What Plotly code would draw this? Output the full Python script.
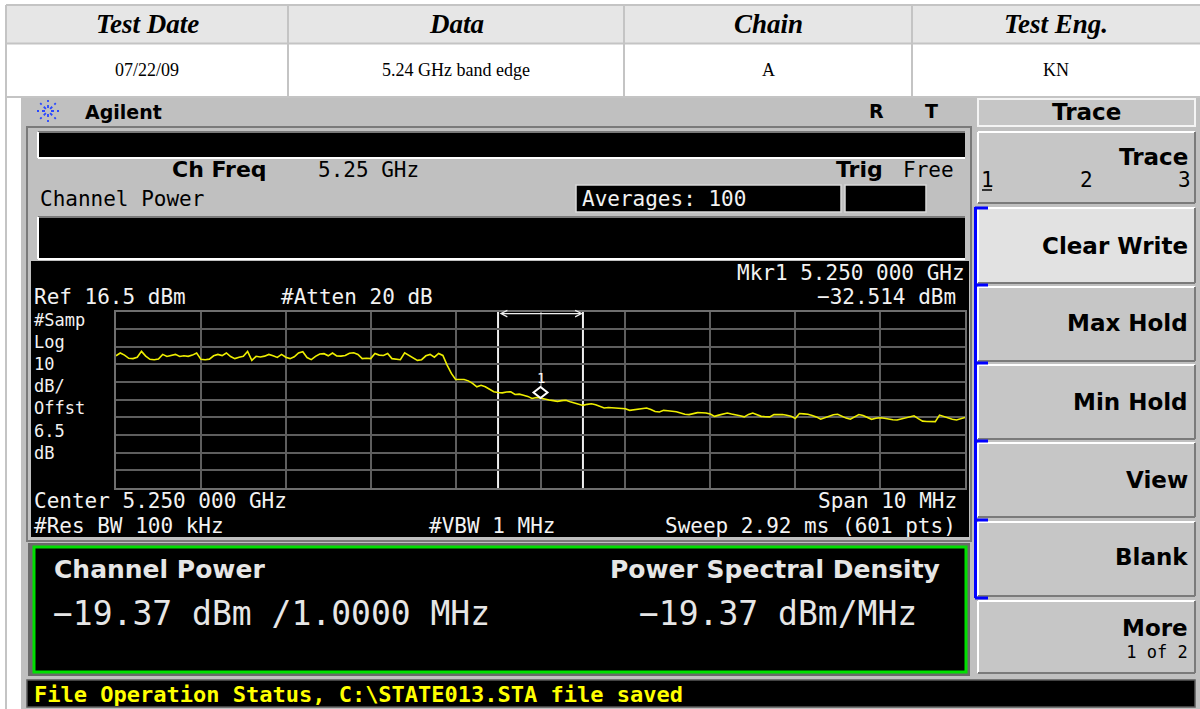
import math
import plotly.graph_objects as go

# ---------------- data ----------------
header_cols = ["Test Date", "Data", "Chain", "Test Eng."]
header_vals = ["07/22/09", "5.24 GHz band edge", "A", "KN"]

center_ghz = 5.25
span_mhz = 10.0
ref_level_dbm = 16.5
db_per_div = 10.0
channel_bw_mhz = 1.0

# swept trace, 201 points across the span (0.05 MHz apart)
trace_dbm = [
    -8.6, -7.0, -8.2, -10.0, -10.2, -9.4, -6.1, -8.8, -10.6, -10.8,
    -10.4, -7.8, -9.0, -8.3, -7.8, -9.0, -8.6, -8.9, -8.2, -7.0,
    -10.6, -10.8, -10.5, -8.6, -7.8, -8.5, -7.0, -9.0, -10.2, -9.4,
    -8.9, -6.1, -11.2, -8.9, -9.3, -8.8, -7.8, -8.6, -9.5, -7.8,
    -9.4, -10.2, -9.2, -7.0, -6.3, -9.6, -10.8, -8.9, -7.6, -7.4,
    -8.6, -7.0, -8.7, -8.8, -8.4, -7.2, -6.9, -7.8, -10.2, -10.0,
    -10.2, -7.3, -8.2, -8.4, -7.3, -10.2, -10.6, -10.8, -6.9, -8.4,
    -9.6, -11.2, -10.8, -8.6, -7.8, -9.4, -7.3, -8.4, -13.9, -18.6,
    -22.0, -22.1, -22.0, -22.8, -24.2, -26.2, -25.3, -26.1, -27.5, -29.0,
    -29.4, -29.6, -29.1, -29.0, -30.5, -30.3, -30.9, -31.6, -32.8, -32.2,
    -32.514, -33.2, -33.6, -34.0, -34.4, -34.0, -33.8, -34.6, -35.4, -35.9,
    -36.7, -36.1, -35.8, -36.3, -37.2, -38.2, -37.9, -38.0, -38.1, -38.4,
    -38.6, -39.5, -39.1, -38.7, -38.5, -38.2, -39.0, -40.2, -40.4, -39.5,
    -39.7, -39.9, -40.3, -41.0, -41.7, -41.9, -41.2, -40.8, -40.9, -41.0,
    -41.6, -42.9, -42.2, -41.4, -41.0, -41.6, -41.9, -42.6, -43.2, -41.8,
    -41.0, -41.9, -42.9, -43.1, -43.2, -41.9, -41.7, -41.9, -42.3, -42.8,
    -44.1, -41.3, -41.5, -41.7, -42.4, -43.2, -44.5, -43.6, -42.8, -42.0,
    -41.7, -42.8, -43.9, -44.5, -43.0, -41.9, -42.4, -43.5, -44.6, -44.0,
    -43.7, -44.0, -44.5, -44.8, -45.0, -44.3, -43.7, -43.0, -42.6, -44.2,
    -45.6, -45.8, -46.0, -45.9, -42.2, -43.0, -44.1, -44.6, -45.0, -44.2,
    -43.5,
]

marker_ghz = 5.250
marker_dbm = -32.514
channel_power_dbm = -19.37
psd_dbm_per_mhz = -19.37

softkeys = ["Trace", "Clear Write", "Max Hold", "Min Hold", "View", "Blank", "More"]
scale_labels = ["#Samp", "Log", "10", "dB/", "Offst", "6.5", "dB"]

# sweep frequencies from the centre / span settings
n_pts = len(trace_dbm)
f_start = center_ghz - span_mhz / 2000.0
f_stop = center_ghz + span_mhz / 2000.0
freq_ghz = [f_start + k * (f_stop - f_start) / (n_pts - 1) for k in range(n_pts)]

# ---------------- helpers (pixel -> paper) ----------------
W, H = 1200, 709
MONO = "DejaVu Sans Mono"
SANS = "DejaVu Sans"
SERIF = "Liberation Serif"
GRAY = "#c0c0c0"
WHITE_TXT = "#f2f2f2"

shapes, annots = [], []


def X(p):
    return p / W


def Y(p):
    return 1 - p / H


def box(x0, y0, x1, y1, fill, line_color=None, lw=0, layer="below"):
    shapes.append(dict(type="rect", xref="paper", yref="paper",
                       x0=X(x0), x1=X(x1), y0=Y(y1), y1=Y(y0),
                       fillcolor=fill, line=dict(width=lw, color=line_color or fill),
                       layer=layer))


def seg(x0, y0, x1, y1, color, w, layer="below", dash="solid"):
    shapes.append(dict(type="line", xref="paper", yref="paper",
                       x0=X(x0), y0=Y(y0), x1=X(x1), y1=Y(y1),
                       line=dict(color=color, width=w, dash=dash), layer=layer))


def label(x, y, s, size, color="#000000", family=MONO, anchor="left", align="left"):
    annots.append(dict(xref="paper", yref="paper", x=X(x), y=Y(y), text=s,
                       showarrow=False, xanchor=anchor, yanchor="middle", align=align,
                       borderpad=0, font=dict(size=size, color=color, family=family)))


def bevel(x0, y0, x1, y1, fill, light="#ffffff", dark="#7a7a7a"):
    box(x0, y0, x1, y1, fill)
    seg(x0, y0, x1, y0, light, 2)
    seg(x0, y0, x0, y1, light, 2)
    seg(x0, y1, x1, y1, dark, 2)
    seg(x1, y0, x1, y1, dark, 2)


# ---------------- header table ----------------
col_edges = [6, 288, 624, 912, 1200]
box(6, 5, 1200, 43, "#e6e6e6")
for yy in (5, 43.5, 97):
    seg(6, yy, 1200, yy, "#c4c4c4", 2)
for xx in col_edges[1:-1]:
    seg(xx, 5, xx, 97, "#c4c4c4", 2)
seg(6, 5, 6, 709, "#c4c4c4", 2)
for k in range(4):
    cx = (col_edges[k] + col_edges[k + 1]) / 2
    label(cx, 24, "<b><i>%s</i></b>" % header_cols[k], 27, "#000000", SERIF, "center")
    label(cx, 70, header_vals[k], 18, "#000000", SERIF, "center")

# ---------------- instrument body ----------------
box(21, 98, 1200, 709, GRAY)

# logo + title strip
for k in range(8):
    a = k * math.pi / 4
    seg(48 + 3 * math.cos(a), 111 + 3 * math.sin(a),
        48 + 11 * math.cos(a), 111 + 11 * math.sin(a), "#2a48ff", 1.8, dash="dot")
label(84, 112, "<b>Agilent</b>", 19, "#000000", SANS)
label(876, 111, "<b>R</b>", 19, "#000000", SANS, "center")
label(932, 111, "<b>T</b>", 19, "#000000", SANS, "center")

# display frame
box(27, 127, 971, 541, GRAY, "#7a7a7a", 2)

# upper black bars
box(38, 132, 965, 158, "#000000")
seg(38, 132, 965, 132, "#7a7a7a", 2)
seg(38, 158, 965, 158, "#ffffff", 2)
seg(38, 132, 38, 158, "#ffffff", 2)
label(171, 170, "<b>Ch Freq</b>", 22, "#000000", SANS)
label(317, 170, "5.25 GHz", 21, "#000000")
label(835, 170, "<b>Trig</b>", 22, "#000000", SANS)
label(902, 170, "Free", 21, "#000000")
label(39, 199, "Channel Power", 21, "#000000")

box(576, 185, 841, 212, "#000000", "#d8d8d8", 1.5)
box(845, 185, 926, 212, "#000000", "#d8d8d8", 1.5)
label(581, 199, "Averages: 100", 21, WHITE_TXT)

box(38, 217, 965, 259, "#000000")
seg(38, 217, 965, 217, "#7a7a7a", 2)
seg(38, 259, 965, 259, "#ffffff", 2)
seg(38, 217, 38, 259, "#ffffff", 2)

# main trace display
box(31, 261, 969, 537, "#000000")

mkr_txt = "Mkr1 %.3f 000 GHz" % marker_ghz
label(966, 273, mkr_txt, 21, WHITE_TXT, MONO, "right")
label(33, 297, "Ref %.1f dBm" % ref_level_dbm, 21, WHITE_TXT)
label(280, 297, "#Atten 20 dB", 21, WHITE_TXT)
label(957, 297, "\u2212%.3f dBm" % abs(marker_dbm), 21, WHITE_TXT, MONO, "right")
# vertical scale block (one text, one item per line)
label(33, 386, "<br>".join(scale_labels), 17, WHITE_TXT)
label(33, 501, "Center %.3f 000 GHz" % center_ghz, 21, WHITE_TXT)
label(958, 501, "Span %d MHz" % span_mhz, 21, WHITE_TXT, MONO, "right")
label(33, 526, "#Res BW 100 kHz", 21, WHITE_TXT)
label(428, 526, "#VBW 1 MHz", 21, WHITE_TXT)
label(957, 526, "Sweep 2.92 ms (601 pts)", 21, WHITE_TXT, MONO, "right")

# channel power result box
box(28, 543, 970, 676, "#6a6a6a")
box(34, 547, 966, 672, "#000000", "#00e000", 3)
label(53, 569, "<b>Channel Power</b>", 25, "#e6e6e6", SANS)
label(52, 613, "\u2212%.2f dBm /1.0000 MHz" % abs(channel_power_dbm), 33, "#e6e6e6")
label(609, 569, "<b>Power Spectral Density</b>", 25, "#e6e6e6", SANS)
label(638, 613, "\u2212%.2f dBm/MHz" % abs(psd_dbm_per_mhz), 33, "#e6e6e6")

# status line
box(27, 680, 1195, 707, "#000000", "#5a5a5a", 1.5)
label(33, 694, "<b>File Operation Status, C:\\STATE013.STA file saved</b>", 22, "#ffff00")

# ---------------- softkey panel ----------------
box(978, 99, 1195, 126, "#c6c6c6", "#f4f4f4", 2)
label(1086, 112, "<b>Trace</b>", 23, "#000000", SANS, "center")

key_rows = [(132, 203), (208, 283), (287, 361), (365, 439), (443, 517), (522, 596), (601, 673)]
for k, (y0, y1) in enumerate(key_rows):
    bevel(978, y0, 1195, y1, "#e2e2e2" if k == 1 else "#c6c6c6")

label(1189, 157, "<b>%s</b>" % softkeys[0], 23, "#000000", SANS, "right")
label(987, 180, "1", 21, "#000000", MONO, "center")
label(1086, 180, "2", 21, "#000000", MONO, "center")
label(1184, 180, "3", 21, "#000000", MONO, "center")
seg(982, 190, 992, 190, "#000000", 1.5)
for k, yy in [(1, 246), (2, 323), (3, 402), (4, 480), (5, 557)]:
    label(1189, yy, "<b>%s</b>" % softkeys[k], 23, "#000000", SANS, "right")
label(1189, 638,
      "<b><span style='font-size:23px;font-family:DejaVu Sans'>%s</span></b><br>1 of 2" % softkeys[6],
      17, "#000000", MONO, "right", "right")

# blue group bracket
seg(975.5, 207, 975.5, 598, "#0000ff", 3)
for yy in (208, 285, 363, 441, 520, 598):
    seg(975, yy, 988, yy, "#0000ff", 3)

# ---------------- trace, markers, channel edges ----------------
ch_lo = center_ghz - channel_bw_mhz / 2000.0
ch_hi = center_ghz + channel_bw_mhz / 2000.0
y_bottom = ref_level_dbm - 10 * db_per_div

for fx in (ch_lo, ch_hi):
    shapes.append(dict(type="line", xref="x", yref="y", x0=fx, x1=fx,
                       y0=y_bottom, y1=ref_level_dbm,
                       line=dict(color="#eeeeee", width=2), layer="below"))

annots.append(dict(xref="x", yref="y domain", x=ch_hi, y=0.988,
                   axref="x", ayref="pixel", ax=ch_lo, ay=0, text="",
                   showarrow=True, arrowside="end+start", arrowhead=5,
                   startarrowhead=5, arrowsize=0.9, startarrowsize=0.9,
                   arrowwidth=1.4, arrowcolor="#eeeeee", standoff=0, startstandoff=0))

shapes.append(dict(type="path", xref="x", yref="y", xsizemode="pixel", ysizemode="pixel",
                   xanchor=marker_ghz, yanchor=marker_dbm,
                   path="M0,0 L7,5.5 L0,11 L-7,5.5 Z",
                   line=dict(color="#ffffff", width=2), fillcolor="#000000", layer="above"))
annots.append(dict(xref="x", yref="y", x=marker_ghz, y=marker_dbm, yshift=20,
                   text="1", showarrow=False, font=dict(size=14, color="#ffffff", family=MONO)))

fig = go.Figure(go.Scatter(x=freq_ghz, y=trace_dbm, mode="lines",
                           line=dict(color="#eeee00", width=1.6),
                           hoverinfo="skip"))

axis_common = dict(showticklabels=False, ticks="", zeroline=False,
                   gridcolor="#5e5e5e", gridwidth=1.5,
                   showline=True, linecolor="#6e6e6e", linewidth=2, mirror=True,
                   fixedrange=True)

fig.update_layout(
    width=W, height=H, margin=dict(l=0, r=0, t=0, b=0),
    paper_bgcolor="#ffffff", plot_bgcolor="#000000", showlegend=False,
    xaxis=dict(range=[f_start, f_stop], tick0=f_start, dtick=span_mhz / 10000.0,
               domain=[X(116), X(965)], **axis_common),
    yaxis=dict(range=[y_bottom, ref_level_dbm], tick0=ref_level_dbm, dtick=db_per_div,
               domain=[Y(488), Y(311.5)], **axis_common),
    shapes=shapes, annotations=annots,
)

fig.write_html("out.html")
